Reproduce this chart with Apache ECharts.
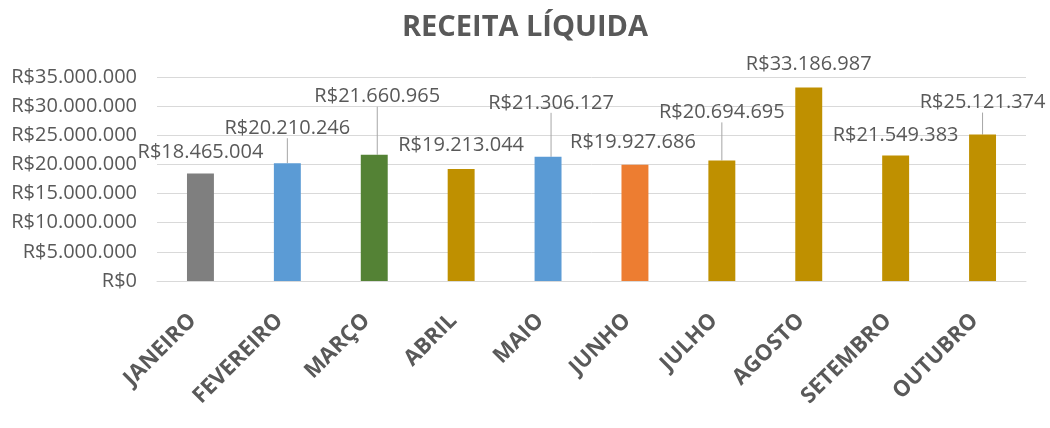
<!DOCTYPE html>
<html>
<head>
<meta charset="utf-8">
<script src="https://cdn.jsdelivr.net/npm/echarts@6/dist/echarts.min.js"></script>
<style>
  html, body { margin: 0; padding: 0; background: #fff; }
  #main { width: 1050px; height: 428px; }
</style>
</head>
<body>
<div id="main"></div>
<script>
var months = ['JANEIRO', 'FEVEREIRO', 'MARÇO', 'ABRIL', 'MAIO', 'JUNHO', 'JULHO', 'AGOSTO', 'SETEMBRO', 'OUTUBRO'];
var receita = [18465004, 20210246, 21660965, 19213044, 21306127, 19927686, 20694695, 33186987, 21549383, 25121374];
var barColors = ['#7f7f7f', '#5b9bd5', '#548235', '#bf9000', '#5b9bd5', '#ed7d31', '#bf9000', '#bf9000', '#bf9000', '#bf9000'];

// where each data label was dragged to (px, relative to the default top spot)
var labelShift = [[0, -6], [0, -20], [3, -43], [0, -9], [3, -39], [-2, -8], [0, -33], [0, -8], [0, -5], [0, -17]];

function brl(v) {
  return 'R$' + String(Math.round(v)).replace(/\B(?=(\d{3})+(?!\d))/g, '.');
}

var font = '"Open Sans", "Noto Sans", sans-serif';
var textColor = '#595959';

var myChart = echarts.init(document.getElementById('main'));

var data = receita.map(function (v, i) {
  return {
    value: v,
    itemStyle: { color: barColors[i] },
    labelLine: { show: Math.abs(labelShift[i][1]) > 15 }
  };
});

myChart.setOption({
  animation: false,
  backgroundColor: '#fff',
  title: {
    text: 'RECEITA LÍQUIDA',
    left: 'center',
    top: 8,
    textStyle: { fontFamily: font, fontSize: 29, fontWeight: 'bold', color: textColor }
  },
  grid: { left: 157, right: 24, top: 77, bottom: 147 },
  xAxis: {
    type: 'category',
    data: months,
    axisLine: { lineStyle: { color: '#d9d9d9' } },
    axisTick: { show: false },
    axisLabel: {
      rotate: 45,
      margin: 44,
      interval: 0,
      verticalAlign: 'bottom',
      fontFamily: font,
      fontSize: 22,
      fontWeight: 'bold',
      color: textColor
    }
  },
  yAxis: {
    type: 'value',
    min: 0,
    max: 35000000,
    interval: 5000000,
    axisLine: { show: false },
    axisTick: { show: false },
    splitLine: { lineStyle: { color: '#d9d9d9' } },
    axisLabel: {
      margin: 20,
      fontFamily: font,
      fontSize: 20,
      color: textColor,
      formatter: brl
    }
  },
  series: [{
    type: 'bar',
    data: data,
    barWidth: '31%',
    label: {
      show: true,
      position: 'top',
      distance: 5,
      fontFamily: font,
      fontSize: 20,
      color: textColor,
      formatter: function (p) { return brl(p.value); }
    },
    labelLine: {
      show: false,
      lineStyle: { color: '#a6a6a6', width: 1 }
    },
    labelLayout: function (p) {
      var s = labelShift[p.dataIndex];
      return { dx: s[0], dy: s[1] };
    }
  }]
});
</script>
</body>
</html>
